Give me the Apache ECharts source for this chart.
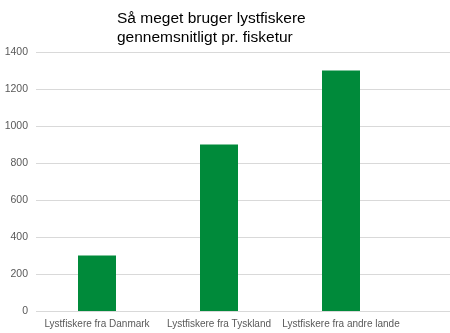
<!DOCTYPE html>
<html>
<head>
<meta charset="utf-8">
<script src="https://cdn.jsdelivr.net/npm/echarts@6/dist/echarts.min.js"></script>
<style>html,body{margin:0;padding:0;background:#fff}#c{width:450px;height:333px}</style>
</head>
<body>
<div id="c"></div>
<script>
const titleText = "Så meget bruger lystfiskere\ngennemsnitligt pr. fisketur";
const categories = ["Lystfiskere fra Danmark", "Lystfiskere fra Tyskland", "Lystfiskere fra andre lande"];
const values = [300, 900, 1300];
const yMin = 0, yMax = 1400, yInterval = 200;

const font = "Liberation Sans, Arial, sans-serif";
const chart = echarts.init(document.getElementById('c'), null, {renderer: 'canvas'});
chart.setOption({
  animation: false,
  backgroundColor: '#fff',
  title: {
    text: titleText,
    left: 117, top: 9, padding: 0,
    textStyle: {fontFamily: font, fontSize: 15.5, fontWeight: 'normal', color: '#000', lineHeight: 19}
  },
  grid: [
    {left: 36, right: 0, top: 52, bottom: 22},
    {left: 36, right: 48, top: 52, bottom: 22}
  ],
  xAxis: [
    {type: 'category', gridIndex: 0, data: categories, show: false},
    {type: 'category', gridIndex: 1, data: categories,
     axisLine: {show: false}, axisTick: {show: false},
     axisLabel: {fontFamily: font, fontSize: 10, color: '#595959', margin: 8, interval: 0}}
  ],
  yAxis: [
    {type: 'value', gridIndex: 0, min: yMin, max: yMax, interval: yInterval,
     axisLine: {show: false}, axisTick: {show: false},
     axisLabel: {fontFamily: font, fontSize: 10.5, color: '#595959', margin: 8,
                 formatter: v => String(v)},
     splitLine: {lineStyle: {color: '#d9d9d9', width: 1}}},
    {type: 'value', gridIndex: 1, min: yMin, max: yMax, interval: yInterval, show: false,
     splitLine: {show: false}}
  ],
  series: [{
    type: 'bar', xAxisIndex: 1, yAxisIndex: 1,
    data: values, barWidth: 38,
    itemStyle: {color: '#008a3a'}
  }]
});
</script>
</body>
</html>
